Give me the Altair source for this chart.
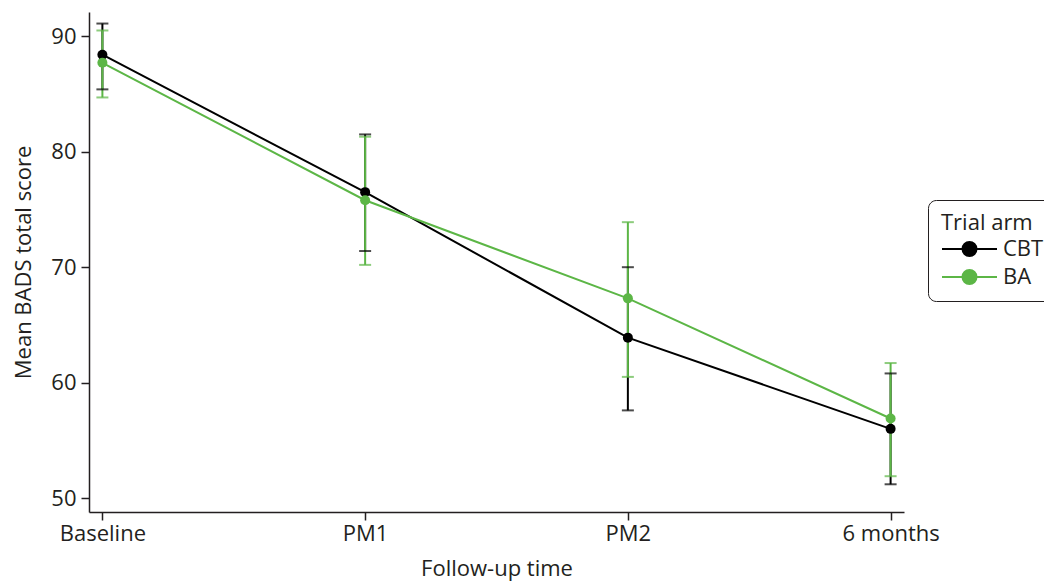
import altair as alt
import pandas as pd

times = ["Baseline", "PM1", "PM2", "6 months"]
arms = ["CBT", "BA"]
cbt_mean = [88.4, 76.5, 63.9, 56.0]
cbt_lo = [85.4, 71.4, 57.6, 51.2]
cbt_hi = [91.1, 81.5, 70.0, 60.8]
ba_mean = [87.7, 75.8, 67.3, 56.9]
ba_lo = [84.7, 70.2, 60.5, 51.9]
ba_hi = [90.5, 81.3, 73.9, 61.7]
colors = ["#000000", "#5cb646"]

rows = []
for arm, m, lo, hi in [("CBT", cbt_mean, cbt_lo, cbt_hi), ("BA", ba_mean, ba_lo, ba_hi)]:
    for t, a, b, c in zip(times, m, lo, hi):
        rows.append({"time": t, "arm": arm, "mean": a, "lo": b, "hi": c})
df = pd.DataFrame(rows)

FONT = "Open Sans"
TXT = "#231f20"
FS = 22

x = alt.X("time:N", sort=times, title="Follow-up time",
          scale=alt.Scale(type="point", padding=0.051),
          axis=alt.Axis(labelAngle=0, labelFontSize=FS, titleFontSize=FS,
                        titleFontWeight="normal", tickSize=8, labelPadding=3,
                        titlePadding=14, domainColor=TXT, tickColor=TXT,
                        labelColor=TXT, titleColor=TXT, domainWidth=1.5, tickWidth=1.5,
                        grid=False))
yscale = alt.Scale(domain=[48.8, 92.1], nice=False, zero=False)
yaxis = alt.Axis(values=[50, 60, 70, 80, 90], labelFontSize=FS, titleFontSize=FS,
                 titleFontWeight="normal", tickSize=8, labelPadding=5,
                 titlePadding=15, domainColor=TXT, tickColor=TXT, labelColor=TXT,
                 titleColor=TXT, domainWidth=1.5, tickWidth=1.5, grid=False)

legend_path = "M-1,0L4.5,0M1.05,0A0.7,0.7,0,1,1,2.45,0A0.7,0.7,0,1,1,1.05,0Z"
color = alt.Color("arm:N", sort=arms, title="Trial arm",
                  scale=alt.Scale(domain=arms, range=colors),
                  legend=alt.Legend(orient="none", legendX=839, legendY=188,
                                    symbolType=legend_path, symbolSize=400,
                                    symbolStrokeWidth=2, symbolOpacity=1,
                                    labelOffset=40,
                                    labelFontSize=FS, titleFontSize=FS,
                                    titleFontWeight="normal", labelColor=TXT,
                                    titleColor=TXT, padding=13, rowPadding=6,
                                    titlePadding=3, strokeColor=TXT,
                                    cornerRadius=8))

base = alt.Chart(df)

rules = base.mark_rule(strokeWidth=2).encode(
    x=x, y=alt.Y("lo:Q", scale=yscale, axis=yaxis, title="Mean BADS total score"),
    y2="hi:Q", color=color)
caps_lo = base.mark_tick(size=12, thickness=2).encode(x=x, y="lo:Q", color=color)
caps_hi = base.mark_tick(size=12, thickness=2).encode(x=x, y="hi:Q", color=color)
lines = base.mark_line(strokeWidth=2).encode(x=x, y="mean:Q", color=color)
points = base.mark_point(filled=True, size=100, opacity=1).encode(x=x, y="mean:Q", color=color)

chart = alt.layer(rules, caps_lo, caps_hi, lines, points).properties(
    width=815, height=500,
    autosize=alt.AutoSizeParams(type="none"),
    padding={"left": 81, "top": 4, "right": 140, "bottom": 70},
).configure(font=FONT).configure_view(stroke=None)

chart.save("out.html", embed_options={"renderer": "svg", "actions": False})
